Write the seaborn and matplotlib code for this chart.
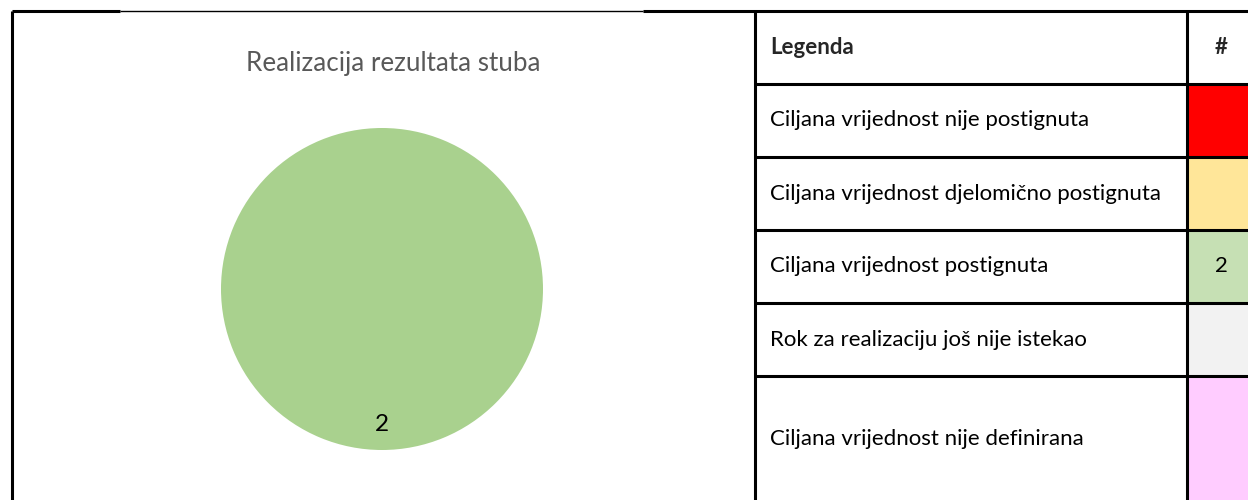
import numpy as np
import matplotlib
matplotlib.use("Agg")
import matplotlib.pyplot as plt
import seaborn as sns

# --- data ---
chart_title = "Realizacija rezultata stuba"
header_label = "Legenda"
header_count = "#"
categories = [
    "Ciljana vrijednost nije postignuta",
    "Ciljana vrijednost djelomično postignuta",
    "Ciljana vrijednost postignuta",
    "Rok za realizaciju još nije istekao",
    "Ciljana vrijednost nije definirana",
]
counts = [0, 0, 2, 0, 0]
cell_colors = ["#FF0000", "#FFE699", "#C6E0B4", "#F2F2F2", "#FFCCFF"]
pie_colors = ["#FF0000", "#FFD966", "#A9D18E", "#D9D9D9", "#FF99FF"]

sns.set_theme(style="white")
plt.rcParams["font.family"] = ["Lato", "DejaVu Sans"]

W, H = 1248, 500
fig = plt.figure(figsize=(W / 100, H / 100), dpi=100)

# overlay axes in pixel coordinates (y downwards) for the frame and the table
ov = fig.add_axes([0, 0, 1, 1])
ov.set_xlim(0, W)
ov.set_ylim(H, 0)
ov.axis("off")

# chart frame
ov.plot([12, 12], [11, H], color="black", lw=2.2, solid_capstyle="butt")
ov.plot([12, 120], [11, 11], color="black", lw=2.2, solid_capstyle="butt")
ov.plot([120, 643], [11, 11], color="black", lw=1.0, solid_capstyle="butt")
ov.plot([643, W], [11, 11], color="black", lw=2.2, solid_capstyle="butt")

ov.text(393, 64, chart_title, ha="center", va="center", fontsize=18.7,
        color="#595959")

# legend table
col_left, col_mid, col_right = 755, 1187, W + 2
row_edges = [11, 84, 157, 230, 303, 376, H + 2]
fs = 16

for i, (cat, n, c) in enumerate(zip(categories, counts, cell_colors)):
    top, bot = row_edges[i + 1], row_edges[i + 2]
    ov.fill_between([col_mid, col_right], top, bot, color=c, lw=0)
    ov.text(col_left + 15, (top + bot) / 2, cat, ha="left", va="center",
            fontsize=fs, color="black")
    if n:
        ov.text((col_mid + W) / 2 + 4, (top + bot) / 2, str(n), ha="center",
                va="center", fontsize=fs, color="black")

ov.text(col_left + 15, (row_edges[0] + row_edges[1]) / 2, header_label,
        ha="left", va="center", fontsize=fs, fontweight="bold")
ov.text((col_mid + W) / 2 + 4, (row_edges[0] + row_edges[1]) / 2,
        header_count, ha="center", va="center", fontsize=fs,
        fontweight="bold")

for y in row_edges[1:-1]:
    ov.plot([col_left, col_right], [y, y], color="black", lw=2.2,
            solid_capstyle="butt")
for x in (col_left, col_mid):
    ov.plot([x, x], [11, H], color="black", lw=2.2, solid_capstyle="butt")

# pie
cx, cy, r = 382, 289, 161
pax = fig.add_axes([(cx - r) / W, (H - cy - r) / H, 2 * r / W, 2 * r / H])
vals = [v for v in counts if v > 0]
cols = [c for v, c in zip(counts, pie_colors) if v > 0]
pax.pie(vals, colors=cols, startangle=90, counterclock=False,
        autopct=lambda p: f"{p * sum(vals) / 100:.0f}", pctdistance=0.84,
        textprops={"fontsize": 17.5, "color": "black"},
        wedgeprops={"linewidth": 0})
pax.set_xlim(-1, 1)
pax.set_ylim(-1, 1)
pax.set_aspect("equal")
pax.axis("off")

fig.savefig("out.png", dpi=100)
